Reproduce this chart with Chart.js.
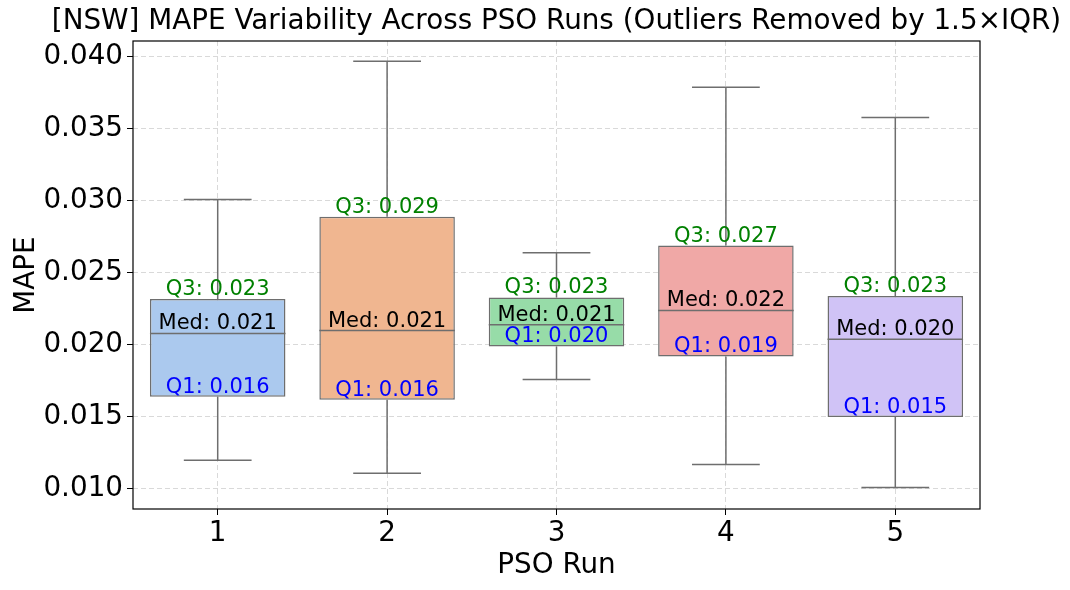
<!DOCTYPE html>
<html>
<head>
<meta charset="utf-8">
<script src="https://cdn.jsdelivr.net/npm/chart.js@4/dist/chart.umd.min.js"></script>
<style>
  html,body{margin:0;padding:0;background:#fff;}
</style>
</head>
<body>
<canvas id="box" width="1070" height="590"></canvas>
<script>
/* ---- data ---- */
const runs    = ['1','2','3','4','5'];
const whiskLo = [0.0120, 0.0111, 0.0176, 0.0117, 0.0101];
const q1      = [0.0164, 0.0162, 0.0199, 0.0192, 0.0150];
const median  = [0.0208, 0.0210, 0.0214, 0.0224, 0.0204];
const q3      = [0.0232, 0.0289, 0.0233, 0.0269, 0.0234];
const whiskHi = [0.0301, 0.0397, 0.0264, 0.0379, 0.0358];
const yTicks  = [0.010, 0.015, 0.020, 0.025, 0.030, 0.035, 0.040];
const title   = '[NSW] MAPE Variability Across PSO Runs (Outliers Removed by 1.5×IQR)';

const fills = ['#abc9ee','#f0b690','#97dca8','#f0a8a6','#d0c3f6'];
const edge  = '#6e6e6e';
const FONT  = "'DejaVu Sans', sans-serif";
const BIG   = 27.8;

/* ---- whiskers, medians, labels, frame and title ---- */
const boxExtras = {
  id:'boxExtras',
  afterDatasetsDraw(chart){
    const {ctx, chartArea:a, scales:{x,y}} = chart;
    const step = x.getPixelForValue(1) - x.getPixelForValue(0);
    const boxHalf = step*0.4, capHalf = step*0.2;
    ctx.save();
    ctx.beginPath(); ctx.rect(a.left,a.top,a.right-a.left,a.bottom-a.top); ctx.clip();
    ctx.strokeStyle = edge; ctx.lineWidth = 1.5;
    runs.forEach((r,i)=>{
      const cx = x.getPixelForValue(i);
      const yLo=y.getPixelForValue(whiskLo[i]), yHi=y.getPixelForValue(whiskHi[i]);
      const yQ1=y.getPixelForValue(q1[i]), yQ3=y.getPixelForValue(q3[i]);
      const yMed=y.getPixelForValue(median[i]);
      ctx.beginPath();
      ctx.moveTo(cx,yQ1); ctx.lineTo(cx,yLo);
      ctx.moveTo(cx,yQ3); ctx.lineTo(cx,yHi);
      ctx.moveTo(cx-capHalf,yLo); ctx.lineTo(cx+capHalf,yLo);
      ctx.moveTo(cx-capHalf,yHi); ctx.lineTo(cx+capHalf,yHi);
      ctx.moveTo(cx-boxHalf,yMed); ctx.lineTo(cx+boxHalf,yMed);
      ctx.stroke();
    });
    ctx.restore();

    ctx.save();
    ctx.font = '21px ' + FONT;
    ctx.textAlign = 'center'; ctx.textBaseline = 'bottom';
    runs.forEach((r,i)=>{
      const cx = x.getPixelForValue(i);
      ctx.fillStyle = 'green';
      ctx.fillText('Q3: ' + q3[i].toFixed(3), cx, y.getPixelForValue(q3[i]) + 1);
      ctx.fillStyle = 'black';
      ctx.fillText('Med: ' + median[i].toFixed(3), cx, y.getPixelForValue(median[i]) + 1);
      ctx.fillStyle = 'blue';
      ctx.fillText('Q1: ' + q1[i].toFixed(3), cx, y.getPixelForValue(q1[i]) + 1);
    });
    ctx.strokeStyle = '#000'; ctx.lineWidth = 1.2;
    ctx.strokeRect(a.left, a.top, a.right-a.left, a.bottom-a.top);

    ctx.fillStyle = '#000';
    ctx.font = BIG + 'px ' + FONT;
    ctx.textBaseline = 'middle';
    ctx.fillText(title, (a.left+a.right)/2, 22);
    ctx.restore();
  }
};

new Chart(document.getElementById('box'),{
  type:'bar',
  data:{
    labels:runs,
    datasets:[{
      data: runs.map((r,i)=>[q1[i], q3[i]]),
      backgroundColor: fills,
      borderColor: edge,
      borderWidth: 1.5,
      borderSkipped: false,
      categoryPercentage: 0.8,
      barPercentage: 1
    }]
  },
  options:{
    responsive:false,
    animation:false,
    layout:{padding:{left:0,right:90,top:41,bottom:8}},
    plugins:{
      legend:{display:false},
      tooltip:{enabled:false},
      title:{display:false}
    },
    scales:{
      x:{
        offset:true,
        grid:{offset:false,color:'#d9d9d9',tickColor:'#000',tickLength:6,tickBorderDash:[]},
        border:{display:false,dash:[5,3]},
        ticks:{color:'#000',font:{family:FONT,size:BIG},padding:2,maxRotation:0},
        title:{display:true,text:'PSO Run',color:'#000',font:{family:FONT,size:BIG},padding:{top:0,bottom:0}},
        afterFit(s){ s.height = 73; }
      },
      y:{
        min:0.00861, max:0.04111,
        afterBuildTicks(s){ s.ticks = yTicks.map(v=>({value:v})); },
        grid:{color:'#d9d9d9',tickColor:'#000',tickLength:6,tickBorderDash:[]},
        border:{display:false,dash:[5,3]},
        ticks:{color:'#000',font:{family:FONT,size:BIG},padding:4,callback:v=>v.toFixed(3)},
        title:{display:true,text:'MAPE',color:'#000',font:{family:FONT,size:BIG},padding:{top:10,bottom:2}},
        afterFit(s){ s.width = 133; }
      }
    }
  },
  plugins:[boxExtras]
});
</script>
</body>
</html>
